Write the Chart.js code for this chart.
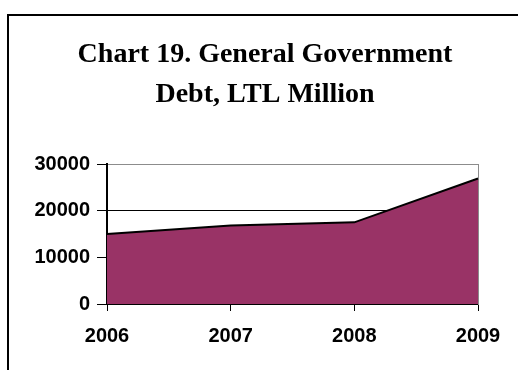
<!DOCTYPE html>
<html>
<head>
<meta charset="utf-8">
<script src="https://cdn.jsdelivr.net/npm/chart.js@4/dist/chart.umd.min.js"></script>
<style>
  html, body { margin: 0; padding: 0; background: #fff; }
  canvas { display: block; }
</style>
</head>
<body>
<canvas id="debtChart" width="518" height="370"></canvas>
<script>
const years = ['2006', '2007', '2008', '2009'];
const debtValues = [15000, 16800, 17500, 26900];
const yTicks = [0, 10000, 20000, 30000];
const titleLines = ['Chart 19. General Government', 'Debt, LTL Million'];

const tickFont = { family: 'Liberation Sans, Arial, sans-serif', size: 20, weight: 'bold' };

// frame round the whole chart, running off the right and bottom edges
const framePlugin = {
    id: 'frame',
    beforeDraw(chart) {
        const c = chart.ctx;
        c.save();
        c.strokeStyle = '#000';
        c.lineWidth = 2;
        c.strokeRect(8, 15, chart.width + 20, chart.height + 20);
        c.restore();
    }
};

new Chart(document.getElementById('debtChart'), {
    type: 'line',
    data: {
        labels: years,
        datasets: [{
            label: 'Debt',
            data: debtValues,
            fill: 'origin',
            backgroundColor: '#993366',
            borderColor: '#000',
            borderWidth: 2,
            pointRadius: 0,
            tension: 0
        }]
    },
    options: {
        responsive: false,
        animation: false,
        devicePixelRatio: 1,
        layout: { padding: { top: 0, right: 0, bottom: 0, left: 12 } },
        plugins: {
            legend: { display: false },
            tooltip: { enabled: false },
            title: {
                display: true,
                text: titleLines,
                color: '#000',
                font: { family: 'Liberation Serif, Times New Roman, serif', size: 28, weight: 'bold', lineHeight: '40px' },
                padding: { top: 35, bottom: 49 }
            }
        },
        scales: {
            x: {
                z: 1,
                offset: false,
                grid: {
                    drawOnChartArea: false,
                    tickColor: '#000',
                    tickLength: 7,
                    lineWidth: 1
                },
                border: { color: '#000', width: 2 },
                ticks: { color: '#000', font: tickFont, padding: 13, maxRotation: 0 },
                afterFit(scale) { scale.height = 66; }
            },
            y: {
                z: 1,
                min: 0,
                max: 30000,
                afterBuildTicks(scale) { scale.ticks = yTicks.map(v => ({ value: v })); },
                grid: {
                    drawOnChartArea: false,
                    tickColor: '#000',
                    tickLength: 10,
                    lineWidth: 1
                },
                border: { color: '#000', width: 2 },
                ticks: {
                    color: '#000',
                    font: tickFont,
                    padding: 7,
                    callback: v => String(v)
                },
                afterFit(scale) { scale.width = 95; }
            },
            // gridlines and the right edge, drawn under the area
            yGrid: {
                position: 'right',
                min: 0,
                max: 30000,
                afterBuildTicks(scale) { scale.ticks = yTicks.map(v => ({ value: v })); },
                grid: {
                    drawTicks: false,
                    color: ctx => ctx.tick && ctx.tick.value === 30000 ? '#8c8c8c' : '#000',
                    lineWidth: 1
                },
                border: { color: '#8c8c8c', width: 1 },
                ticks: { display: false },
                afterFit(scale) { scale.width = 40; }
            }
        }
    },
    plugins: [framePlugin]
});
</script>
</body>
</html>
